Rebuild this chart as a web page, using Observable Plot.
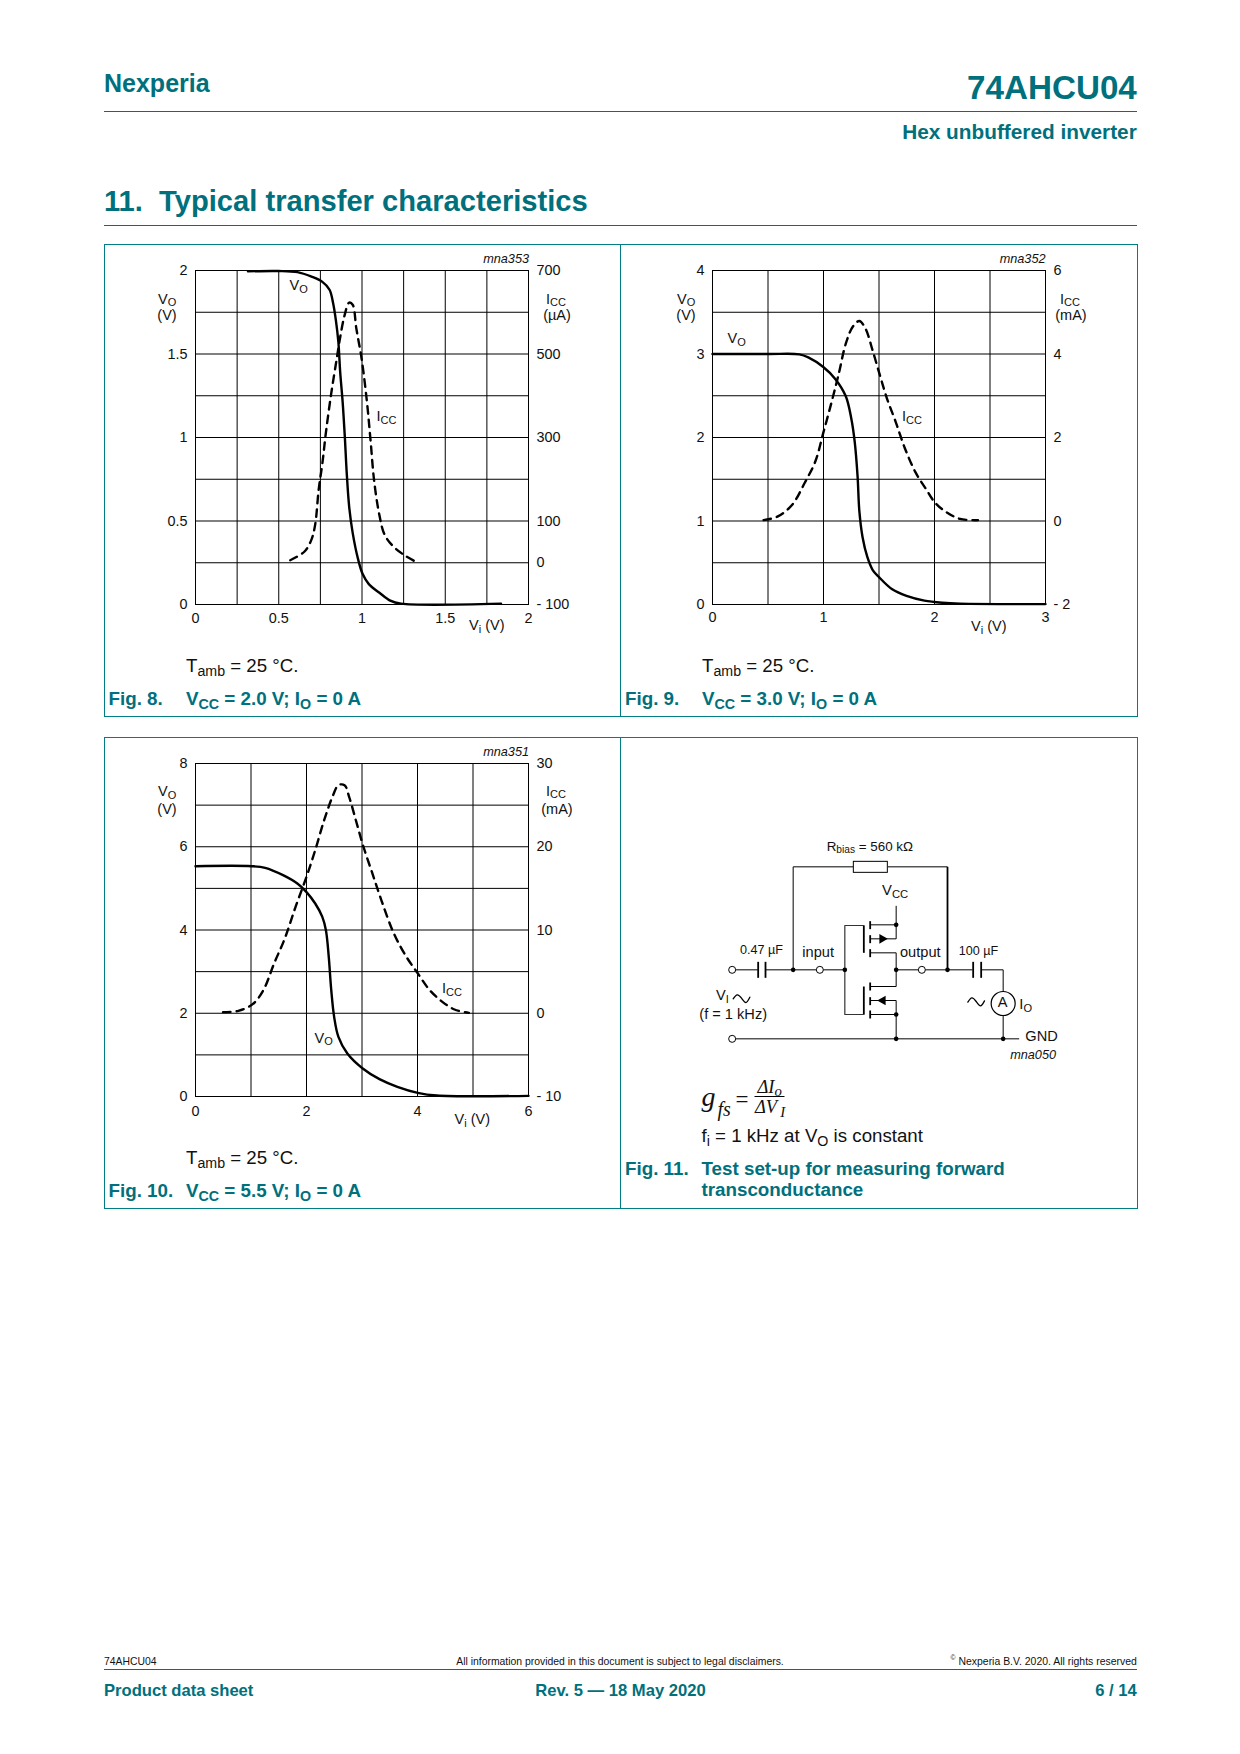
<!DOCTYPE html>
<html><head><meta charset="utf-8">
<script src="https://cdn.jsdelivr.net/npm/d3@7"></script>
<script src="https://cdn.jsdelivr.net/npm/@observablehq/plot@0.6"></script>
<style>
html,body{margin:0;padding:0;background:#fff}
#page{position:relative;width:1240px;height:1754px;overflow:hidden;font-family:"Liberation Sans",Arial,sans-serif;color:#111}
.t{position:absolute;white-space:pre;line-height:1}
.s{font-size:.76em;position:relative;top:.26em}
.teal{color:#00707c;font-weight:bold}
.plot{position:absolute}
.rule{position:absolute;background:#00707c;height:1px}
.vr{position:absolute;background:#007d85;width:1px}
</style></head><body><div id="page"></div>
<script>
// ---------- Fig. 8 data (VCC = 2.0 V)
const fig8VoX = [0.315,0.498,0.612,0.697,0.762,0.805,0.826,0.843,0.858,0.869,0.884,0.897,0.908,0.923,0.944,0.976,1.004,1.041,1.105,1.17,1.234,1.835];
const fig8VoY = [1.995,1.997,1.99,1.963,1.932,1.885,1.807,1.703,1.573,1.391,1.209,1.001,0.793,0.585,0.429,0.273,0.182,0.122,0.07,0.023,0.005,0.005];
const fig8IccX = [0.569,0.655,0.697,0.719,0.74,0.762,0.783,0.815,0.848,0.869,0.895,0.923,0.944,0.966,0.998,1.03,1.052,1.073,1.105,1.137,1.191,1.255,1.32];
const fig8IccY = [6,27,56,92,176,238,311,405,488,540,592,623,618,561,488,384,290,196,113,66,38,18,3];
const fig8XTicks = [0,0.5,1,1.5,2];
const fig8YTicks = [0,0.5,1,1.5,2];
const fig8IccTicks = [700,500,300,100,0,-100];
// ---------- Fig. 9 data (VCC = 3.0 V)
const fig9VoX = [0,0.502,0.782,0.863,0.998,1.104,1.2,1.249,1.281,1.307,1.323,1.352,1.394,1.442,1.5,1.619,1.748,1.909,2.07,2.23,3];
const fig9VoY = [3,3,2.996,2.96,2.845,2.705,2.497,2.237,1.951,1.534,1.118,0.806,0.572,0.416,0.328,0.182,0.104,0.047,0.021,0.01,0.005];
const fig9IccX = [0.46,0.589,0.718,0.83,0.927,0.998,1.072,1.136,1.2,1.265,1.323,1.378,1.442,1.506,1.571,1.651,1.732,1.828,1.925,2.005,2.102,2.231,2.392];
const fig9IccY = [0.02,0.11,0.39,0.91,1.43,2.11,2.84,3.51,4.24,4.66,4.79,4.61,4.09,3.51,2.94,2.37,1.75,1.17,0.76,0.44,0.22,0.05,0.02];
const fig9XTicks = [0,1,2,3];
const fig9YTicks = [0,1,2,3,4];
const fig9IccTicks = [6,4,2,0,-2];
// ---------- Fig. 10 data (VCC = 5.5 V)
const fig10VoX = [0,1.01,1.255,1.577,1.835,1.996,2.157,2.285,2.35,2.401,2.446,2.498,2.575,2.736,3.013,3.315,3.637,4.004,4.346,6];
const fig10VoY = [5.533,5.533,5.493,5.317,5.117,4.917,4.637,4.316,3.996,3.355,2.555,1.914,1.433,1.033,0.673,0.416,0.232,0.088,0.024,0.016];
const fig10IccX = [0.496,0.773,1.03,1.223,1.416,1.609,1.803,2,2.157,2.318,2.479,2.575,2.685,2.768,2.897,3.026,3.187,3.348,3.573,3.798,4.004,4.217,4.442,4.667,4.925];
const fig10IccY = [0.13,0.29,1.09,2.77,5.98,8.98,12.78,16.39,19.59,23.19,26.2,27.4,27.4,26,23,20,16.8,13.6,9.6,6.8,4.8,2.8,1.4,0.45,0.05];
const fig10XTicks = [0,2,4,6];
const fig10YTicks = [0,2,4,6,8];
const fig10IccTicks = [30,20,10,0,-10];
// ---------- Fig. 11 schematic, in the schematic's own drawing units
const wiresThin = [
 [165,418,232,418],[256,418,408,418],[338,418,338,109],[338,109,520,109],[622,109,801,109],
 [428,418,493,418],[569,283,647,283],[569,325,647,325],[647,226,647,325],[569,367,647,367],[647,367,647,468],
 [569,468,647,468],[647,418,714,418],[734,418,876,418],[902,418,968,418],[968,418,968,484],[968,555,968,625],
 [569,510,647,510],[647,510,647,625],[569,552,647,552],[165,625,1016,625],[222,798,312,798]
];
const wiresThick = [
 [801,109,801,418],[233,394,233,442],[255,394,255,442],[878,394,878,442],[902,394,902,442],
 [569,272,569,296],[569,314,569,338],[569,356,569,380],[569,456,569,480],[569,500,569,524],[569,540,569,564],
 [550,285,550,367],[550,468,550,552]
];
const gateBar = [[550,285],[493,285],[493,552],[550,552]];
const junctions = [[338,418],[493,418],[647,283],[647,418],[801,418],[647,552],[647,625],[968,625]];
const terminals = [[155,418],[418,418],[724,418],[155,625]];
const arrows = [[605,325,90],[607,510,-90]];
const waves = [[[158,505],[170,493],[183,503],[196,516],[208,500]],[[862,515],[874,502],[887,513],[900,526],[912,511]]];

const page = document.getElementById("page");
function T(x,y,html,o={}){
  const d=document.createElement("div");d.className="t "+(o.cls||"");
  d.innerHTML=html;d.style.left=x+"px";d.style.top=y+"px";
  d.style.fontSize=(o.size||14.5)+"px";
  const a=o.anchor==="end"?"-100%":o.anchor==="middle"?"-50%":"0";
  d.style.transform=`translate(${a},-50%)`;
  if(o.style)d.style.cssText+=";"+o.style;
  page.appendChild(d);return d;
}
const sub=s=>`<span class="s">${s}</span>`;
const zip=(xs,ys)=>xs.map((x,i)=>({x,y:ys[i]}));
const fmtIcc=v=>v<0?"- "+(-v):String(v);

function figure({left,top,H,xPad,xMax,yMax,iccMin,iccMax,voX,voY,iccX,iccY,xTicks,yTicks,iccTicks}){
  const mL=60,mR=70,mT=10,mB=30,W=333;
  const iccToY=v=>(v-iccMin)/(iccMax-iccMin)*yMax;
  const yToIcc=v=>iccMin+v/yMax*(iccMax-iccMin);
  const xGrid=d3.range(0,xMax+1e-9,xMax/(xMax===2?8:6));
  const yGrid=d3.range(0,yMax+1e-9,yMax/8);
  const p=Plot.plot({
    width:W+mL+mR,height:H+mT+mB,marginLeft:mL,marginRight:mR,marginTop:mT,marginBottom:mB,
    style:{fontFamily:"'Liberation Sans',Arial,sans-serif",fontSize:"14.4px",background:"transparent",color:"#111",overflow:"visible"},
    x:{domain:[0,xMax]},y:{domain:[0,yMax]},
    marks:[
      Plot.gridX(xGrid,{stroke:"#000",strokeOpacity:1,strokeWidth:1}),
      Plot.gridY(yGrid,{stroke:"#000",strokeOpacity:1,strokeWidth:1}),
      Plot.frame({stroke:"#000",strokeWidth:1}),
      Plot.axisX(xTicks,{anchor:"bottom",tickSize:0,tickPadding:xPad,label:null,fontSize:14.4,tickFormat:d=>String(d)}),
      Plot.axisY(yTicks,{anchor:"left",tickSize:0,tickPadding:8,label:null,fontSize:14.4,tickFormat:d=>String(d)}),
      Plot.axisY(iccTicks.map(iccToY),{anchor:"right",tickSize:0,tickPadding:8,label:null,fontSize:14.4,tickFormat:d=>fmtIcc(Math.round(yToIcc(d)))}),
      Plot.line(zip(iccX,iccY),{x:"x",y:d=>iccToY(d.y),stroke:"#000",strokeWidth:2.4,strokeDasharray:"7.5,6",curve:"catmull-rom"}),
      Plot.line(zip(voX,voY),{x:"x",y:"y",stroke:"#000",strokeWidth:2.4,curve:"catmull-rom"})
    ]
  });
  p.classList.add("plot");p.style.position="absolute";
  p.style.left=(left-mL)+"px";p.style.top=(top-mT)+"px";
  page.appendChild(p);
}

// ---------- page furniture
const rule=(x,y,w)=>{const d=document.createElement("div");d.className="rule";d.style.cssText=`left:${x}px;top:${y}px;width:${w}px`;page.appendChild(d)};
rule(104,111,1033);rule(104,225,1033);rule(104,1669,1033);
T(104,82.5,"Nexperia",{cls:"teal",size:25});
T(1136.8,88,"74AHCU04",{cls:"teal",size:33.2,anchor:"end"});
T(1136.8,132,"Hex unbuffered inverter",{cls:"teal",size:20.8,anchor:"end"});
T(104,202,"11.  Typical transfer characteristics",{cls:"teal",size:29.15});
T(104,1662,"74AHCU04",{size:10.4});
T(620,1662,"All information provided in this document is subject to legal disclaimers.",{size:10.4,anchor:"middle"});
T(1136.8,1662,`<sup style="font-size:.65em;line-height:0">©</sup> Nexperia B.V. 2020. All rights reserved`,{size:10.45,anchor:"end"});
T(104,1691,"Product data sheet",{cls:"teal",size:16.6});
T(620.5,1691,"Rev. 5 — 18 May 2020",{cls:"teal",size:16.6,anchor:"middle"});
T(1136.8,1691,"6 / 14",{cls:"teal",size:16.6,anchor:"end"});

// panels
for(const [t,h] of [[244,471],[737,470]]){
  const b=document.createElement("div");
  b.style.cssText=`position:absolute;left:104px;top:${t}px;width:1032px;height:${h}px;border:1px solid #007d85;box-sizing:content-box`;
  page.appendChild(b);
  const v=document.createElement("div");v.className="vr";v.style.cssText=`left:620px;top:${t}px;height:${h+1}px`;page.appendChild(v);
}

// ---------- the three transfer plots
figure({left:195,top:270,H:334,xPad:8,xMax:2,yMax:2,iccMin:-100,iccMax:700,voX:fig8VoX,voY:fig8VoY,iccX:fig8IccX,iccY:fig8IccY,xTicks:fig8XTicks,yTicks:fig8YTicks,iccTicks:fig8IccTicks});
figure({left:712,top:270,H:334,xPad:7,xMax:3,yMax:4,iccMin:-2,iccMax:6,voX:fig9VoX,voY:fig9VoY,iccX:fig9IccX,iccY:fig9IccY,xTicks:fig9XTicks,yTicks:fig9YTicks,iccTicks:fig9IccTicks});
figure({left:195,top:763,H:333,xPad:9,xMax:6,yMax:8,iccMin:-10,iccMax:30,voX:fig10VoX,voY:fig10VoY,iccX:fig10IccX,iccY:fig10IccY,xTicks:fig10XTicks,yTicks:fig10YTicks,iccTicks:fig10IccTicks});

// Fig 8 labels
const mna=(x,y,s)=>T(x,y,s,{size:12.7,anchor:"end",style:"font-style:italic"});
const VO=(x,y)=>T(x,y,"V"+sub("O"));const ICC=(x,y)=>T(x,y,"I"+sub("CC"));
mna(529,259,"mna353");
T(158,298.5,"V"+sub("O"));T(167,315,"(V)",{anchor:"middle"});
T(546,298.5,"I"+sub("CC"));T(557,315,"(µA)",{anchor:"middle"});
VO(289.5,285);ICC(376.5,416);T(469,625,"V"+sub("i")+" (V)");
T(186,666,"T"+sub("amb")+" = 25 °C.",{size:18.7});
T(108.5,699,"Fig. 8.",{cls:"teal",size:18.8});T(186,699,"V"+sub("CC")+" = 2.0 V; I"+sub("O")+" = 0 A",{cls:"teal",size:18.8});
// Fig 9 labels
mna(1045.5,259,"mna352");
T(677,298.5,"V"+sub("O"));T(686,315,"(V)",{anchor:"middle"});
T(1060,298.5,"I"+sub("CC"));T(1071,315,"(mA)",{anchor:"middle"});
VO(727.5,338);ICC(902,416);T(971,626,"V"+sub("i")+" (V)");
T(702,666,"T"+sub("amb")+" = 25 °C.",{size:18.7});
T(625,699,"Fig. 9.",{cls:"teal",size:18.8});T(702,699,"V"+sub("CC")+" = 3.0 V; I"+sub("O")+" = 0 A",{cls:"teal",size:18.8});
// Fig 10 labels
mna(529,752,"mna351");
T(158,791,"V"+sub("O"));T(167,809,"(V)",{anchor:"middle"});
T(546,790.5,"I"+sub("CC"));T(557,809,"(mA)",{anchor:"middle"});
VO(314.5,1037.5);ICC(442,988);T(454.5,1119,"V"+sub("i")+" (V)");
T(186,1158,"T"+sub("amb")+" = 25 °C.",{size:18.7});
T(108.5,1191,"Fig. 10.",{cls:"teal",size:18.8});T(186,1191,"V"+sub("CC")+" = 5.5 V; I"+sub("O")+" = 0 A",{cls:"teal",size:18.8});

// ---------- Fig. 11 schematic
const seg=a=>({x1:a[0],y1:a[1],x2:a[2],y2:a[3]});
const schem=Plot.plot({
  width:420,height:400,margin:0,
  x:{domain:[0,1260],range:[0,420],axis:null},y:{domain:[0,1200],range:[0,400],axis:null},
  style:{background:"transparent",overflow:"visible"},
  marks:[
    Plot.link(wiresThin.map(seg),{x1:"x1",y1:"y1",x2:"x2",y2:"y2",stroke:"#000",strokeWidth:1}),
    Plot.link(wiresThick.map(seg),{x1:"x1",y1:"y1",x2:"x2",y2:"y2",stroke:"#000",strokeWidth:1.8}),
    Plot.line(gateBar,{x:d=>d[0],y:d=>d[1],stroke:"#333",strokeWidth:1.2}),
    Plot.rect([{a:520,b:622,c:94,d:127}],{x1:"a",x2:"b",y1:"c",y2:"d",fill:"#fff",stroke:"#000",strokeWidth:1}),
    ...waves.map(w=>Plot.line(w,{x:d=>d[0],y:d=>d[1],stroke:"#000",strokeWidth:1.3,curve:"natural"})),
    Plot.dot([[968,519]],{x:d=>d[0],y:d=>d[1],r:12,fill:"#fff",stroke:"#000",strokeWidth:1.2}),
    Plot.dot(terminals,{x:d=>d[0],y:d=>d[1],r:3.5,fill:"#fff",stroke:"#000",strokeWidth:1}),
    Plot.dot(junctions,{x:d=>d[0],y:d=>d[1],r:2.3,fill:"#000"}),
    Plot.dot(arrows,{x:d=>d[0],y:d=>d[1],symbol:"triangle",r:3.6,rotate:d=>d[2],fill:"#000"})
  ]
});
schem.classList.add("plot");schem.style.position="absolute";schem.style.left="680px";schem.style.top="830px";
page.appendChild(schem);
const S=(zx,zy,html,o)=>T(680+zx/3,830+zy/3,html,o);
S(440,50,"R"+sub("bias")+" = 560 kΩ",{size:13.4});
S(606,181,"V"+sub("CC"),{size:14.8});
S(180,361,"0.47 µF",{size:12.6});
S(367,366,"input",{size:14.6});
S(660,366,"output",{size:14.6});
S(836,364,"100 µF",{size:12.6});
S(108,495,"V"+sub("I"),{size:14.6});
S(58,552,"(f = 1 kHz)",{size:14.6});
S(968,517,"A",{size:14.6,anchor:"middle"});
S(1018,523,"I"+sub("O"),{size:14.6});
S(1036,617,"GND",{size:14.6});
S(1128,676,"mna050",{size:12.7,anchor:"end",style:"font-style:italic"});
const serif="font-family:'Liberation Serif',serif;font-style:italic;";
T(701.5,1097,"g",{size:28,style:serif});
T(717.5,1109,"fs",{size:20,style:serif});
T(735.5,1099,"=",{size:23,style:"font-family:'Liberation Serif',serif;"});
T(757.5,1087,"ΔI"+`<span style="font-size:.8em;position:relative;top:.2em">o</span>`,{size:18.5,style:serif});
T(755,1107,"ΔV"+`<span style="font-size:.8em;position:relative;top:.3em;padding-left:3px">I</span>`,{size:18.5,style:serif});
T(701.5,1136,"f"+sub("i")+" = 1 kHz at V"+sub("O")+" is constant",{size:18.7});
T(625,1168.5,"Fig. 11.",{cls:"teal",size:18.8});
T(701.5,1168.5,"Test set-up for measuring forward",{cls:"teal",size:18.8});
T(701.5,1190,"transconductance",{cls:"teal",size:18.8});
</script></body></html>
